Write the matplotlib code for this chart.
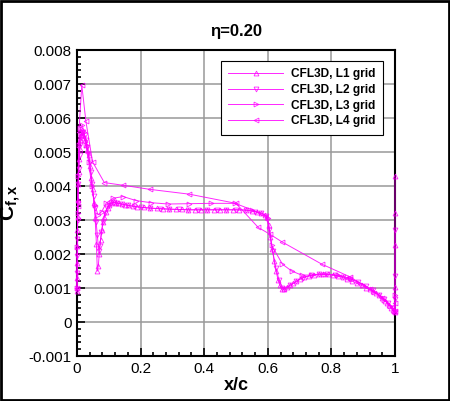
import numpy as np
import matplotlib
matplotlib.use("Agg")
import matplotlib.pyplot as plt
from matplotlib.ticker import AutoMinorLocator, FixedFormatter, FixedLocator

plt.rcParams['font.family'] = ['Liberation Sans', 'DejaVu Sans']
plt.rcParams['mathtext.fontset'] = 'custom'
plt.rcParams['mathtext.rm'] = 'Liberation Sans'
plt.rcParams['mathtext.bf'] = 'Liberation Sans:bold'
plt.rcParams['mathtext.it'] = 'Liberation Sans:italic'

# C_f,x values below are in units of 1e-3

# L1 grid (finest)
x_l1 = [0.0, 0.0002, 0.0005, 0.001, 0.0015, 0.002, 0.003, 0.004, 0.005, 0.0065,
        0.008, 0.010, 0.012, 0.015, 0.018, 0.021, 0.025, 0.029, 0.033, 0.037,
        0.041, 0.045, 0.049, 0.053, 0.057, 0.061, 0.064, 0.067, 0.070, 0.074,
        0.078, 0.082, 0.086, 0.091, 0.096, 0.102, 0.108, 0.115, 0.122, 0.13,
        0.14, 0.15, 0.16, 0.175, 0.19, 0.21, 0.23, 0.25, 0.27, 0.29,
        0.31, 0.33, 0.35, 0.37, 0.39, 0.41, 0.43, 0.45, 0.47, 0.49,
        0.51, 0.53, 0.55, 0.565, 0.58, 0.59, 0.597, 0.603, 0.608, 0.614,
        0.62, 0.626, 0.632, 0.638, 0.645, 0.652, 0.66, 0.67, 0.68, 0.69,
        0.70, 0.715, 0.73, 0.745, 0.76, 0.775, 0.79, 0.805, 0.82, 0.835,
        0.85, 0.865, 0.88, 0.895, 0.91, 0.92, 0.93, 0.94, 0.95, 0.96,
        0.968, 0.975, 0.982, 0.988, 0.993, 0.997, 1.0, 1.0, 1.0, 1.0, 1.0]
cf_l1 = [0.90, 1.30, 1.75, 2.25, 2.70, 3.10, 3.60, 4.05, 4.40, 4.80,
         5.10, 5.35, 5.50, 5.55, 5.50, 5.42, 5.35, 5.20, 5.05, 4.90,
         4.60, 4.25, 3.90, 3.50, 3.05, 2.30, 1.50, 1.65, 2.00, 2.40,
         2.70, 2.95, 3.10, 3.25, 3.35, 3.45, 3.50, 3.52, 3.51, 3.49,
         3.47, 3.45, 3.43, 3.41, 3.39, 3.37, 3.35, 3.34, 3.33, 3.32,
         3.31, 3.31, 3.30, 3.30, 3.30, 3.30, 3.30, 3.30, 3.30, 3.30,
         3.30, 3.29, 3.27, 3.24, 3.20, 3.16, 3.10, 2.85, 2.50, 2.15,
         1.80, 1.50, 1.25, 1.08, 0.96, 0.97, 1.02, 1.08, 1.14, 1.20,
         1.26, 1.32, 1.36, 1.39, 1.41, 1.41, 1.40, 1.38, 1.35, 1.31,
         1.26, 1.20, 1.14, 1.08, 1.01, 0.96, 0.90, 0.84, 0.78, 0.70,
         0.63, 0.56, 0.49, 0.42, 0.36, 0.31, 0.28, 1.04, 2.26, 3.20, 4.29]

# L2 grid
x_l2 = [0.0, 0.0003, 0.0007, 0.0012, 0.002, 0.003, 0.0045, 0.006, 0.008, 0.010,
        0.013, 0.016, 0.020, 0.024, 0.028, 0.032, 0.036, 0.040, 0.044, 0.048,
        0.052, 0.056, 0.060, 0.064, 0.068, 0.072, 0.077, 0.082, 0.088, 0.094,
        0.10, 0.107, 0.115, 0.125, 0.14, 0.16, 0.18, 0.20, 0.23, 0.26,
        0.29, 0.32, 0.35, 0.38, 0.41, 0.44, 0.47, 0.50, 0.53, 0.56,
        0.58, 0.595, 0.605, 0.615, 0.625, 0.635, 0.645, 0.655, 0.67, 0.69,
        0.71, 0.735, 0.76, 0.785, 0.81, 0.835, 0.86, 0.885, 0.91, 0.93,
        0.95, 0.965, 0.978, 0.99, 1.0, 1.0, 1.0, 1.0]
cf_l2 = [0.95, 1.45, 1.95, 2.45, 3.00, 3.50, 4.05, 4.50, 4.90, 5.20,
         5.45, 5.60, 5.60, 5.50, 5.35, 5.15, 4.95, 4.70, 4.40, 4.05,
         3.70, 3.35, 2.95, 2.55, 2.10, 2.25, 2.65, 2.95, 3.20, 3.35,
         3.45, 3.50, 3.52, 3.50, 3.47, 3.43, 3.40, 3.37, 3.35, 3.33,
         3.32, 3.31, 3.30, 3.30, 3.30, 3.30, 3.30, 3.30, 3.29, 3.25,
         3.20, 3.12, 2.70, 2.10, 1.60, 1.25, 1.00, 0.98, 1.08, 1.20,
         1.30, 1.37, 1.41, 1.41, 1.38, 1.33, 1.26, 1.17, 1.05, 0.93,
         0.80, 0.68, 0.55, 0.40, 0.30, 0.68, 1.35, 2.71]

# L3 grid
x_l3 = [0.0, 0.001, 0.002, 0.004, 0.007, 0.011, 0.016, 0.022, 0.029, 0.037,
        0.046, 0.056, 0.066, 0.078, 0.092, 0.114, 0.145, 0.186, 0.232, 0.287,
        0.353, 0.42, 0.497, 0.55, 0.60, 0.612, 0.646, 0.675, 0.706, 0.74,
        0.78, 0.82, 0.86, 0.90, 0.935, 0.965, 0.985, 1.0, 1.0]
cf_l3 = [1.00, 2.20, 3.20, 4.30, 5.20, 5.70, 5.80, 5.60, 5.20, 4.70,
         4.00, 3.45, 3.15, 3.25, 3.50, 3.64, 3.69, 3.57, 3.51, 3.47,
         3.48, 3.49, 3.49, 3.30, 3.05, 2.26, 1.70, 1.50, 1.38, 1.38,
         1.40, 1.38, 1.28, 1.10, 0.88, 0.65, 0.48, 0.32, 0.80]

# L4 grid (coarsest)
x_l4 = [0.0, 0.002, 0.006, 0.015, 0.028, 0.049, 0.086, 0.146, 0.23, 0.353,
        0.50, 0.57, 0.607, 0.644, 0.77, 0.858, 0.92, 0.96, 0.99, 1.0, 1.0]
cf_l4 = [1.00, 3.40, 5.60, 6.97, 5.90, 4.71, 4.10, 4.02, 3.90, 3.76,
         3.49, 2.78, 2.58, 2.36, 1.70, 1.33, 0.98, 0.72, 0.45, 0.32, 0.55]

series = [
    (x_l1, cf_l1, '^', 'CFL3D, L1 grid'),
    (x_l2, cf_l2, 'v', 'CFL3D, L2 grid'),
    (x_l3, cf_l3, '>', 'CFL3D, L3 grid'),
    (x_l4, cf_l4, '<', 'CFL3D, L4 grid'),
]

y_ticks = [-0.001, 0.0, 0.001, 0.002, 0.003, 0.004, 0.005, 0.006, 0.007, 0.008]
y_labels = ['-0.001', '0', '0.001', '0.002', '0.003', '0.004', '0.005', '0.006', '0.007', '0.008']
x_ticks = [0, 0.2, 0.4, 0.6, 0.8, 1.0]
x_labels = ['0', '0.2', '0.4', '0.6', '0.8', '1']

magenta = '#ff00ff'

fig = plt.figure(figsize=(4.5, 4.01), dpi=100)
ax = fig.add_axes([77 / 450, 1 - 356 / 401, 318 / 450, 306 / 401])

for xs, cf, mk, lab in series:
    ax.plot(xs, np.array(cf) * 1e-3, color=magenta, lw=0.7, marker=mk,
            markersize=3.5, markerfacecolor='none', markeredgewidth=0.6,
            label=lab, alpha=0.85, clip_on=False, zorder=3)

ax.set_xlim(0, 1)
ax.set_ylim(-0.001, 0.008)
ax.xaxis.set_major_locator(FixedLocator(x_ticks))
ax.xaxis.set_major_formatter(FixedFormatter(x_labels))
ax.yaxis.set_major_locator(FixedLocator(y_ticks))
ax.yaxis.set_major_formatter(FixedFormatter(y_labels))
ax.xaxis.set_minor_locator(AutoMinorLocator(5))
ax.yaxis.set_minor_locator(AutoMinorLocator(5))
ax.tick_params(which='both', direction='in', top=False, right=False,
               labelsize=11, width=1.2)
ax.tick_params(which='major', length=6, pad=4)
ax.tick_params(which='minor', length=3)
ax.grid(True, which='major', color='#999999', lw=1.1, zorder=0)
ax.set_axisbelow(True)
for sp in ax.spines.values():
    sp.set_linewidth(1.5)

ax.set_xlabel('x/c', fontsize=13, fontweight='bold', labelpad=1)
ax.set_ylabel(r'$\mathbf{C_{f,x}}$', fontsize=15, labelpad=4)
ax.set_title('η=0.20', fontsize=12, fontweight='bold', pad=10)

leg = ax.legend(loc='upper right', bbox_to_anchor=(0.962, 0.965),
                prop={'size': 8.6, 'weight': 'bold'}, handlelength=4.6,
                fancybox=False, framealpha=1, edgecolor='black',
                borderpad=0.6, labelspacing=0.32, handletextpad=0.7,
                borderaxespad=0.0)
leg.get_frame().set_linewidth(0.8)

fig.add_artist(plt.Rectangle((0.002, 0.002), 0.996, 0.996, transform=fig.transFigure,
                             fill=False, edgecolor='black', lw=2))

fig.savefig('out.png', dpi=100)
